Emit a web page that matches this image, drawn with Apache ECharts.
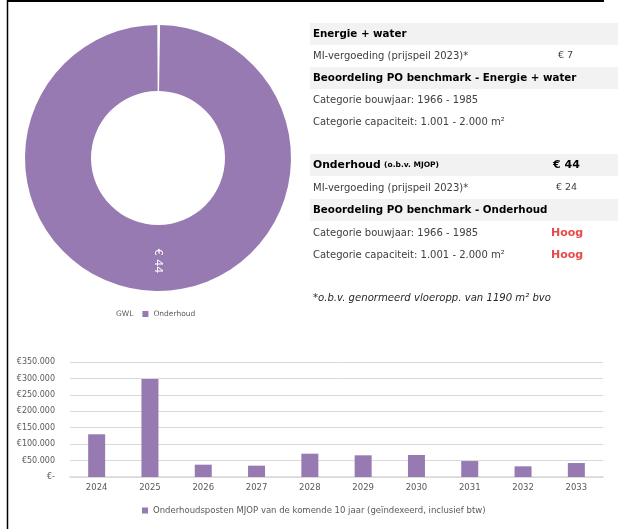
<!DOCTYPE html>
<html>
<head>
    <meta charset="utf-8">
    <title>Onderhoud</title>
    <script src="https://cdn.jsdelivr.net/npm/echarts@6/dist/echarts.min.js"></script>
    <style>
        html, body {margin: 0; padding: 0; background: #fff;}
    </style>
</head>
<body>
<div id="main" style="width: 618px;height:529px;"></div>
<script type="text/javascript">
    // donut
    var pieNames = ['GWL', 'Onderhoud'];
    var pieValues = [0, 44];

    // bars
    var years = ['2024','2025','2026','2027','2028','2029','2030','2031','2032','2033'];
    var mjop = [130000, 298000, 37500, 34500, 71000, 66000, 67000, 48500, 32500, 42500];

    var purple = '#967ab1';
    var FONT = '"DejaVu Sans", sans-serif';

    function euro(v) {
        if (v === 0) return '€-';
        return '€' + String(v).replace(/\B(?=(\d{3})+(?!\d))/g, '.');
    }

    // right hand table, rows: [y, label, value, kind]
    var rows = [
        [34, 'Energie + water', '', 'head'],
        [56, 'MI-vergoeding (prijspeil 2023)*', '€ 7', 'row'],
        [78, 'Beoordeling PO benchmark - Energie + water', '', 'head'],
        [100, 'Categorie bouwjaar: 1966 - 1985', '', 'row'],
        [122, 'Categorie capaciteit: 1.001 - 2.000 m²', '', 'row'],
        [165, 'Onderhoud', '€ 44', 'head2'],
        [188, 'MI-vergoeding (prijspeil 2023)*', '€ 24', 'row'],
        [210, 'Beoordeling PO benchmark - Onderhoud', '', 'head'],
        [233, 'Categorie bouwjaar: 1966 - 1985', 'Hoog', 'red'],
        [255, 'Categorie capaciteit: 1.001 - 2.000 m²', 'Hoog', 'red']
    ];

    var graphic = [
        {type: 'line', shape: {x1: 7, y1: 1, x2: 604, y2: 1}, style: {stroke: '#000', lineWidth: 2}},
        {type: 'line', shape: {x1: 7.5, y1: 0, x2: 7.5, y2: 529}, style: {stroke: '#000', lineWidth: 1.5}}
    ];
    rows.forEach(function (r) {
        var y = r[0], kind = r[3];
        if (kind === 'head' || kind === 'head2') {
            graphic.push({type: 'rect', shape: {x: 310, y: y - 11, width: 308, height: 22}, style: {fill: '#f2f2f2'}, z: 1});
        }
        var bold = kind === 'head' || kind === 'head2';
        if (kind === 'head2') {
            graphic.push({type: 'text', x: 313, y: y, z: 2, style: {
                text: '{a|Onderhoud} {b|(o.b.v. MJOP)}', verticalAlign: 'middle',
                rich: {
                    a: {font: 'bold 10.8px ' + FONT, fill: '#000'},
                    b: {font: 'bold 7.5px ' + FONT, fill: '#000'}
                }
            }});
        } else {
            graphic.push({type: 'text', x: 313, y: y, z: 2, style: {
                text: r[1], verticalAlign: 'middle',
                font: (bold ? 'bold 10.3px ' : '10px ') + FONT, fill: bold ? '#000' : '#404040'
            }});
        }
        if (r[2]) {
            var vx = kind === 'red' ? 551 : (kind === 'head2' ? 553 : (r[2] === '€ 7' ? 558 : 556));
            graphic.push({type: 'text', x: vx, y: y, z: 2, style: {
                text: r[2], verticalAlign: 'middle',
                font: (kind === 'red' || kind === 'head2' ? 'bold 11px ' : '9.5px ') + FONT,
                fill: kind === 'red' ? '#e8494b' : (kind === 'head2' ? '#000' : '#404040')
            }});
        }
    });
    graphic.push({type: 'text', x: 313, y: 298, z: 2, style: {
        text: '*o.b.v. genormeerd vloeropp. van 1190 m² bvo', verticalAlign: 'middle',
        font: 'italic 10.1px ' + FONT, fill: '#262626'
    }});

    var myChart = echarts.init(document.getElementById('main'));

    var option = {
        animation: false,
        backgroundColor: '#fff',
        textStyle: {fontFamily: FONT},
        graphic: graphic,
        legend: [
            {
                data: [{name: 'GWL', itemStyle: {opacity: 0}}, 'Onderhoud'],
                left: 100, top: 305,
                itemWidth: 6, itemHeight: 6, itemGap: 9,
                icon: 'rect',
                textStyle: {fontSize: 7.5, color: '#595959'}
            },
            {
                data: ['Onderhoudsposten MJOP van de komende 10 jaar (geïndexeerd, inclusief btw)'],
                left: 137, top: 501,
                itemWidth: 6, itemHeight: 6,
                icon: 'rect',
                textStyle: {fontSize: 8.5, color: '#595959'}
            }
        ],
        grid: {left: 70, right: 15, top: 362, bottom: 52, containLabel: false},
        xAxis: {
            type: 'category',
            data: years,
            axisLine: {lineStyle: {color: '#d9d9d9', width: 1.5}},
            axisTick: {show: false},
            axisLabel: {fontSize: 8.5, color: '#595959', margin: 6}
        },
        yAxis: {
            type: 'value',
            min: 0, max: 350000, interval: 50000,
            axisLine: {show: false},
            axisTick: {show: false},
            splitLine: {lineStyle: {color: '#d9d9d9', width: 1}},
            axisLabel: {fontSize: 8, color: '#595959', margin: 15, formatter: euro}
        },
        series: [
            {
                name: 'pie',
                type: 'pie',
                center: [158, 158],
                radius: [67, 133],
                startAngle: 90,
                clockwise: true,
                padAngle: 0.6,
                avoidLabelOverlap: false,
                legendHoverLink: false,
                label: {
                    show: true, position: 'inside', rotate: -90,
                    formatter: function (p) { return '€ ' + p.value; },
                    color: '#fff', fontSize: 11
                },
                labelLine: {show: false},
                data: pieNames.map(function (n, i) {
                    var d = {name: n, value: pieValues[i]};
                    if (n === 'GWL') {
                        d.itemStyle = {color: 'rgba(0,0,0,0)'};
                        d.label = {show: false};
                    } else {
                        d.itemStyle = {color: purple};
                    }
                    return d;
                })
            },
            {
                name: 'Onderhoudsposten MJOP van de komende 10 jaar (geïndexeerd, inclusief btw)',
                type: 'bar',
                barWidth: 17,
                itemStyle: {color: purple},
                data: mjop
            }
        ]
    };

    myChart.setOption(option);
</script>
</body>
</html>
